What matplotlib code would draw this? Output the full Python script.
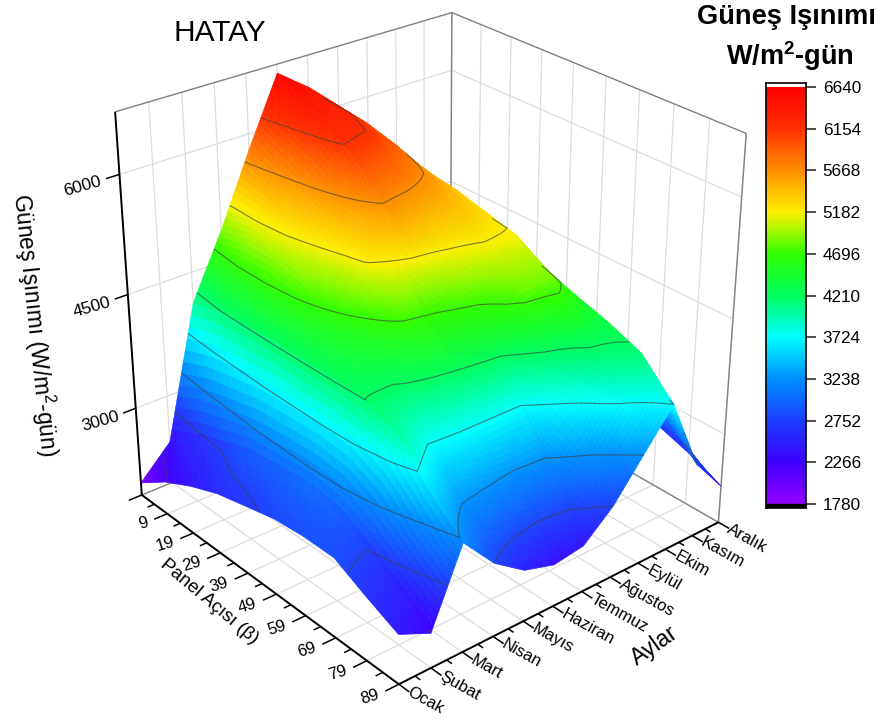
import numpy as np
import matplotlib
matplotlib.use('Agg')
import matplotlib.pyplot as plt
from matplotlib.colors import LinearSegmentedColormap, Normalize
from mpl_toolkits.mplot3d import proj3d

plt.rcParams['font.family'] = ['Liberation Sans', 'DejaVu Sans']
plt.rcParams['mathtext.fontset'] = 'custom'
plt.rcParams['mathtext.rm'] = 'Liberation Sans'
plt.rcParams['mathtext.bf'] = 'Liberation Sans:bold'

aylar = ['Ocak', 'Şubat', 'Mart', 'Nisan', 'Mayıs', 'Haziran', 'Temmuz',
         'Ağustos', 'Eylül', 'Ekim', 'Kasım', 'Aralık']
beta = [-1, 9, 19, 29, 39, 49, 59, 69, 79, 89]
beta_ticks = [9, 19, 29, 39, 49, 59, 69, 79, 89]
z_ticks = [3000, 4500, 6000]
cbar_ticks = [1780, 2266, 2752, 3238, 3724, 4210, 4696, 5182, 5668, 6154, 6640]

ocak    = [1970, 2240, 2440, 2600, 2700, 2800, 2840, 2840, 2630, 2440]
subat   = [2370, 2600, 2752, 2900, 2950, 3000, 2950, 2752, 2500, 2250]
mart    = [4100, 4200, 4230, 4250, 4250, 4240, 4210, 4000, 3550, 3200]
nisan   = [4900, 5000, 5000, 4900, 4700, 4450, 4170, 3700, 3238, 2752]
mayis   = [5800, 5650, 5500, 5350, 5220, 4800, 4300, 3724, 3150, 2470]
haziran = [6640, 6450, 6250, 5900, 5480, 4880, 4400, 3724, 3050, 2350]
temmuz  = [6350, 6300, 6150, 5820, 5430, 5050, 4500, 3724, 3100, 2410]
agustos = [5950, 5950, 5850, 5650, 5420, 5150, 4850, 4080, 3450, 2752]
eylul   = [5200, 5350, 5400, 5350, 5250, 5150, 4880, 4330, 3900, 3238]
ekim    = [3900, 4200, 4400, 4550, 4600, 4550, 4450, 4320, 4150, 3724]
kasim   = [2700, 3000, 3250, 3400, 3500, 3550, 3500, 3400, 3200, 2770]
aralik  = [2000, 2200, 2400, 2550, 2650, 2700, 2700, 2650, 2500, 2300]

Z = np.array([ocak, subat, mart, nisan, mayis, haziran, temmuz, agustos,
              eylul, ekim, kasim, aralik], dtype=float)

ELEV, AZIM = 28, -40
XMIN, XMAX, YMIN, YMAX, ZMIN, ZMAX = -1, 89, 1, 12, 1800, 6750
W, H = 885.0, 724.0

colors = ['#9400ff', '#3c00ff', '#1c40ff', '#0090ff', '#00ffff', '#00ff60',
          '#30ff00', '#fff000', '#ff9000', '#ff3000', '#ff0000']
cmap = LinearSegmentedColormap.from_list('rainbow_o', colors, N=256)
norm = Normalize(1780, 6640)

fig = plt.figure(figsize=(8.85, 7.24), dpi=100)
ax = fig.add_axes([-25 / W, 28 / H, 1, 1], projection='3d', computed_zorder=False)
ax.set_box_aspect((1, 1, 1.02), zoom=1.0)
ax.set_proj_type('persp', focal_length=0.58)
ax.view_init(elev=ELEV, azim=AZIM)
ax.set_xlim(XMIN, XMAX, view_margin=0)
ax.set_ylim(YMIN, YMAX, view_margin=0)
ax.set_zlim(ZMIN, ZMAX, view_margin=0)
ax.set_axis_off()

# finer mesh only for the shading of the surface, like the colour fill of the original
n = 12
bx = np.linspace(beta[0], beta[-1], (len(beta) - 1) * n + 1)
my = np.linspace(1, 12, 11 * n + 1)
Zb = np.array([np.interp(bx, beta, row) for row in Z])
Zf = np.array([np.interp(my, np.arange(1, 13), Zb[:, j]) for j in range(len(bx))]).T
Xf, Yf = np.meshgrid(bx, my)


def line(xs, ys, zs, color, lw, zo=1):
    ax.plot(xs, ys, zs, color=color, lw=lw, zorder=zo, solid_capstyle='butt')


def label(x, y, z, s, **kw):
    # text placed at a projected 3d point, mplot3d text cannot take a free rotation
    a, b, _ = proj3d.proj_transform(x, y, z, ax.get_proj())
    px = ax.transData.transform((a, b))
    fig.text(px[0] / W, px[1] / H, s, **kw)


grid = '#dcdcdc'
frame = '#808080'
for b in beta_ticks:
    line([b, b], [YMIN, YMAX], [ZMIN, ZMIN], grid, 0.9)
    line([b, b], [YMAX, YMAX], [ZMIN, ZMAX], grid, 0.9)
for m in range(1, 13):
    line([XMIN, XMAX], [m, m], [ZMIN, ZMIN], grid, 0.9)
    line([XMIN, XMIN], [m, m], [ZMIN, ZMAX], grid, 0.9)
for t in z_ticks:
    line([XMIN, XMIN], [YMIN, YMAX], [t, t], grid, 0.9)
    line([XMIN, XMAX], [YMAX, YMAX], [t, t], grid, 0.9)

# back frame
line([XMIN, XMIN], [YMIN, YMAX], [ZMAX, ZMAX], frame, 1)
line([XMIN, XMAX], [YMAX, YMAX], [ZMAX, ZMAX], frame, 1)
line([XMAX, XMAX], [YMAX, YMAX], [ZMIN, ZMAX], frame, 1)
line([XMIN, XMIN], [YMAX, YMAX], [ZMIN, ZMAX], frame, 1)
line([XMIN, XMIN], [YMIN, YMAX], [ZMIN, ZMIN], frame, 1)
line([XMIN, XMAX], [YMAX, YMAX], [ZMIN, ZMIN], frame, 1)

# edges take the face colour, so the small quads leave no seams
ax.plot_surface(Xf, Yf, Zf, facecolors=cmap(norm(Zf)), rstride=1, cstride=1,
                linewidth=0.4, antialiased=True, shade=False, zorder=2)

# hide the contour parts that lie behind the hill, walking from each point to the camera
el, az = np.radians(ELEV), np.radians(AZIM)
asp = ax.get_box_aspect()
dx = np.cos(el) * np.cos(az) / asp[0] * (XMAX - XMIN)
dy = np.cos(el) * np.sin(az) / asp[1] * (YMAX - YMIN)
dz = np.sin(el) / asp[2] * (ZMAX - ZMIN)
hidden = np.zeros(Zf.shape, dtype=bool)
for t in np.linspace(0.005, 1.5, 150):
    xq = Xf + t * dx
    yq = Yf + t * dy
    zq = Zf + t * dz
    inside = (xq <= XMAX) & (xq >= XMIN) & (yq >= YMIN) & (yq <= YMAX)
    i = np.clip(np.round((yq - 1) * n).astype(int), 0, Zf.shape[0] - 1)
    j = np.clip(np.round((xq - beta[0]) / 10 * n).astype(int), 0, Zf.shape[1] - 1)
    hidden |= inside & (Zf[i, j] > zq + 15)
ax.contour(Xf, Yf, np.ma.masked_where(hidden, Zf), levels=cbar_ticks[1:-1],
           colors='#404040', linewidths=0.8, alpha=0.65, zorder=3)

# front axes
line([XMIN, XMIN], [YMIN, YMIN], [ZMIN, ZMAX], 'black', 1.4, 4)
line([XMIN, XMAX], [YMIN, YMIN], [ZMIN, ZMIN], 'black', 1.4, 4)
line([XMAX, XMAX], [YMIN, YMAX], [ZMIN, ZMIN], 'black', 1.4, 4)

for b in np.arange(-1, 90, 5):
    major = b in beta_ticks or b == -1
    line([b, b], [YMIN, YMIN - (0.42 if major else 0.22)], [ZMIN, ZMIN], 'black', 1.1, 4)
for m in np.arange(1, 12.01, 0.5):
    major = m == int(m)
    line([XMAX, XMAX + (3.2 if major else 1.6)], [m, m], [ZMIN, ZMIN], 'black', 1.1, 4)
for t in z_ticks:
    line([XMIN, XMIN], [YMIN, YMIN - 0.4], [t, t], 'black', 1.1, 4)

fig.canvas.draw()
for b in beta_ticks:
    label(b, YMIN - 0.62, ZMIN, str(b), fontsize=12, rotation=17, ha='right', va='center',
          rotation_mode='anchor')
for i, name in enumerate(aylar):
    label(XMAX + 3.0, i + 1, ZMIN, name, fontsize=12, rotation=-29, ha='left', va='center',
          rotation_mode='anchor')
for t in z_ticks:
    label(XMIN, YMIN - 1.1, t, str(t), fontsize=12.5, rotation=16, ha='center', va='center')

fig.text(173 / W, 1 - 33 / H, 'HATAY', fontsize=21.5, ha='left', va='center')
fig.text(786.5 / W, 1 - 17 / H, 'Güneş Işınımı', fontsize=19.6, fontweight='bold', ha='center', va='center')
fig.text(790 / W, 1 - 56 / H, r'W/m$^{\mathbf{2}}$-gün', fontsize=19.5, fontweight='bold', ha='center', va='center')
fig.text(35 / W, 1 - 325 / H, r'Güneş Işınımı (W/m$^{2}$-gün)', fontsize=16.3, rotation=-84, ha='center', va='center')
fig.text(209 / W, 1 - 602 / H, 'Panel Açısı (β)', fontsize=13.5, rotation=-40, ha='center', va='center')
fig.text(655 / W, 1 - 646 / H, 'Aylar', fontsize=16.5, rotation=35, ha='center', va='center')

# colour scale
cax = fig.add_axes([766 / W, 1 - 508 / H, 40 / W, 425 / H])
vals = np.linspace(1780, 6640, 256).reshape(-1, 1)
cax.imshow(vals, cmap=cmap, norm=norm, origin='lower', aspect='auto', extent=[0, 1, 1780, 6640])
cax.set_xlim(0, 1)
cax.set_ylim(1780 - 48, 6640 + 48)
cax.axhspan(1732, 1780, color='black')
cax.set_xticks([])
cax.yaxis.tick_right()
cax.set_yticks(cbar_ticks)
cax.tick_params(axis='y', length=7, width=1.2, labelsize=12.3, pad=5, color='#303030')
for s in cax.spines.values():
    s.set_linewidth(1.2)

fig.savefig('out.png', dpi=100)
